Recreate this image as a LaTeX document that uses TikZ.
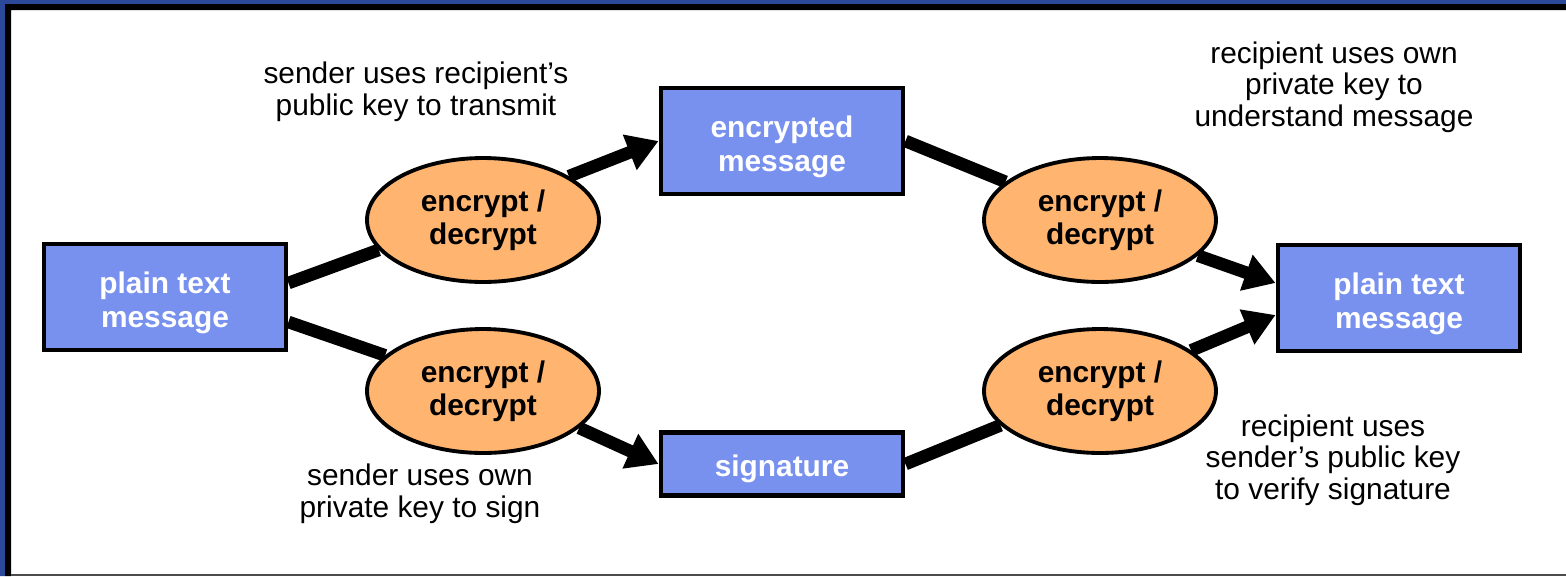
\documentclass[tikz,border=0pt]{standalone}
\usepackage{fontspec}
\setmainfont{Liberation Sans}
\usetikzlibrary{shapes.geometric,arrows.meta,calc}

\definecolor{boxblue}{RGB}{120,145,238}
\definecolor{keyorange}{RGB}{255,181,112}
\definecolor{framenavy}{RGB}{44,72,152}

% connectors go under the shapes, the frame under everything
\pgfdeclarelayer{back}
\pgfdeclarelayer{edges}
\pgfsetlayers{back,edges,main}

\begin{document}
\begin{tikzpicture}[x=0.02cm, y=-0.02cm,
  msgbox/.style={draw, line width=2.8pt, fill=boxblue, text=white, align=center,
    font=\fontsize{17}{19.5}\selectfont\bfseries, minimum width=4.84cm, inner sep=0pt,
    text height=18.3pt},
  tallbox/.style={msgbox, minimum height=2.12cm, text height=38.7pt},
  crypt/.style={ellipse, draw, line width=2.2pt, fill=keyorange, align=center,
    font=\fontsize{17}{19}\selectfont\bfseries, minimum width=4.64cm, minimum height=2.48cm, inner sep=0pt},
  note/.style={align=center, font=\fontsize{17}{18}\selectfont},
  link/.style={line width=7.2pt},
  flow/.style={link, -{Triangle[length=0.62cm,width=0.72cm]}}]

  % frame
  \begin{pgfonlayer}{back}
    \fill[white] (0,0) rectangle (1566,576);
    \fill[framenavy] (0,0) rectangle (1566,4) (0,0) rectangle (5,576);
    \fill[black] (5,4) rectangle (1566,10) (5,4) rectangle (11,576);
    \fill[black!70] (11,574) rectangle (1566,576);
  \end{pgfonlayer}

  % messages
  \node[tallbox] (plainL) at (165,297) {plain text\\message};
  \node[tallbox] (encMsg) at (782,141) {encrypted\\message};
  \node[msgbox, minimum height=1.26cm] (sigBox) at (782,464) {signature};
  \node[tallbox] (plainR) at (1399,298) {plain text\\message};

  % key operations
  \node[crypt] (cryptA) at (483,220) {encrypt /\\decrypt};
  \node[crypt] (cryptB) at (483,391) {encrypt /\\decrypt};
  \node[crypt] (cryptC) at (1100,220) {encrypt /\\decrypt};
  \node[crypt] (cryptD) at (1100,391) {encrypt /\\decrypt};

  \node[note] (sendNote) at (416,92) {sender uses recipient’s\\public key to transmit};
  \node[note] (openNote) at (1334,87) {recipient uses own\\private key to\\understand message};
  \node[note] (signNote) at (420,494) {sender uses own\\private key to sign};
  \node[note] (verifyNote) at (1333,460) {recipient uses\\sender’s public key\\to verify signature};

  \begin{pgfonlayer}{edges}
    \draw[link] ($(plainL.east)+(0,-14)$) -- (cryptA.196);
    \draw[link] ($(plainL.east)+(0,25)$) -- (cryptB.160);
    \draw[flow] (cryptA.27) -- (encMsg.west);
    \draw[flow] (cryptB.339) -- (sigBox.west);
    \draw[link] (encMsg.east) -- (cryptC.158);
    \draw[link] (sigBox.east) -- (cryptD.199);
    \draw[flow] (cryptC.340) -- ($(plainR.west)+(0,-15)$);
    \draw[flow] (cryptD.24) -- ($(plainR.west)+(0,17)$);
  \end{pgfonlayer}

\end{tikzpicture}
\end{document}
